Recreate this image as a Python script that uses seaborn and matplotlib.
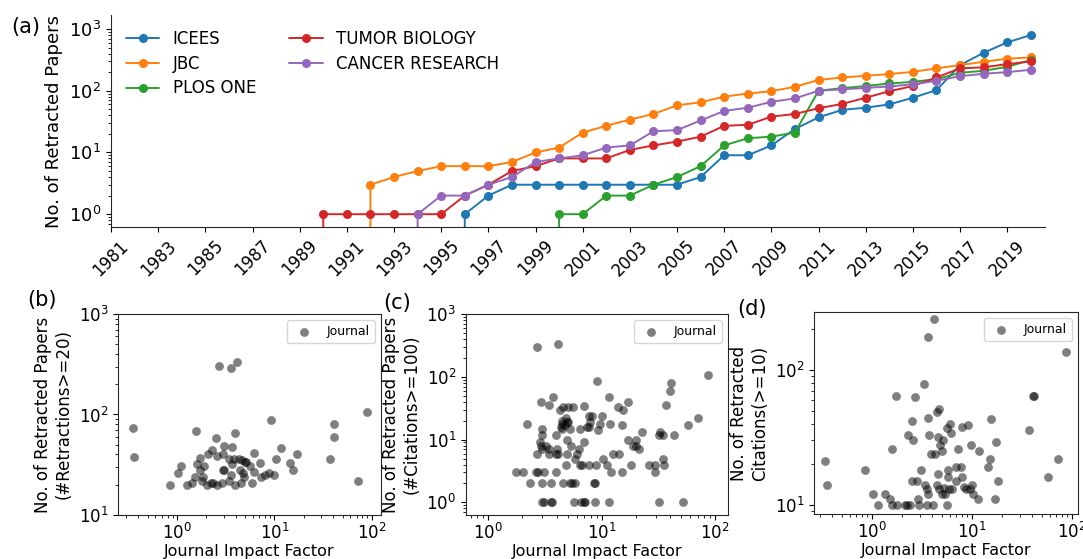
import pandas as pd
import matplotlib
matplotlib.use("Agg")
import matplotlib.pyplot as plt
import seaborn as sns

# (a) retracted papers per year, each list starts at the last year with zero
journals = ["ICEES", "JBC", "PLOS ONE", "TUMOR BIOLOGY", "CANCER RESEARCH"]
icees_start = 1995
icees = [0, 1, 2, 3, 3, 3, 3, 3, 3, 3, 3, 4, 9, 9, 13, 24, 37, 49, 53, 60,
         77, 102, 260, 411, 607, 796]
jbc_start = 1991
jbc = [0, 3, 4, 5, 6, 6, 6, 7, 10, 12, 21, 27, 34, 42, 58, 65, 80, 90, 98,
       116, 149, 164, 174, 186, 202, 230, 260, 294, 329, 347]
plos_start = 1999
plos = [0, 1, 1, 2, 2, 3, 4, 6, 13, 17, 18, 21, 100, 110, 119, 131, 139, 154,
        195, 210, 244, 313]
tumor_start = 1989
tumor = [0, 1, 1, 1, 1, 1, 1, 2, 3, 5, 6, 8, 8, 8, 11, 13, 15, 18, 27, 28,
         38, 42, 52, 61, 77, 98, 119, 164, 230, 239, 270, 298]
cancer_start = 1993
cancer = [0, 1, 2, 2, 3, 4, 7, 8, 9, 12, 13, 22, 23, 33, 47, 53, 66, 75, 100,
          105, 111, 117, 127, 145, 172, 188, 200, 218]
year_ticks = list(range(1981, 2020, 2))

# (b) journals with >= 20 retractions
b_if = [0.35, 0.36, 2.72, 3.6, 4.17, 9.2, 1.57, 3.94, 2.54, 3.05, 3.68, 2.29,
        2.1, 2.94, 1.72, 3.43, 3.85, 4.68, 5.06, 6.14, 7.16, 11.7, 10.4, 17.1,
        14.4, 15.6, 37.4, 41, 40.4, 71.6, 90, 1.09, 1.02, 0.85, 1.28, 1.43,
        1.54, 1.62, 1.83, 1.8, 1.89, 1.71, 2.04, 2.24, 2.32, 2.57, 2.87, 2.94,
        3.0, 3.43, 3.6, 3.91, 3.7, 4.43, 4.5, 4.78, 4.86, 5.0, 5.55, 5.9, 6.14,
        7.3, 8.05, 8.7, 9.9, 2.6, 4.3]
b_n = [74, 38, 305, 287, 333, 88, 68, 66, 58, 49, 48, 44, 40, 40, 37, 36, 36,
       35, 34, 41, 33, 46, 36, 40, 33, 28, 36, 81, 60, 22, 105, 31, 26, 20, 20,
       21, 24, 32, 24, 22, 31, 28, 20, 21, 21, 20, 21, 28, 28, 22, 25, 20, 32,
       28, 21, 26, 24, 34, 31, 21, 27, 24, 25, 26, 25, 39, 36]

# (c) journals, retracted papers with >= 100 citations
c_if = [3.0, 3.11, 3.55, 3.63, 5.67, 6.57, 6.93, 7.1, 8.75, 11.7, 32.2, 52,
        2.33, 2.95, 3.6, 4.58, 5.23, 5.5, 5.86, 8.47, 8.75,
        1.76, 2.02, 2.63, 2.72, 3.07, 3.98, 12.1, 15.1, 29.7,
        4.8, 6.48, 6.7, 7.66, 8.93, 11.1, 18, 26.3, 29.7, 35.5,
        5.86, 10.2, 34.8,
        2.69, 3.44, 3.93, 4.1, 4.96, 6.06, 12.5, 14.3,
        3.0, 3.44, 4.0, 6.3, 21.5,
        2.9, 3.2, 5.4, 18.8, 20,
        2.87, 6.93,
        4.9, 17, 19.9,
        2.97, 3.93, 31.7, 34.8, 43,
        32.5, 22.7, 9.35,
        2.95, 4.48, 6.4,
        7.4, 7.66, 15.1, 58,
        2.17, 4.48, 9.66, 11.8,
        4.9, 7.9, 70,
        7.8, 10, 8.2,
        4.5, 4.8, 4.7, 4.4, 5.0, 5.3,
        4.28, 15.4,
        4.6, 5.0, 13.8, 5.6, 7.0,
        36.7, 3.44, 2.9, 17, 3.7, 11.7,
        39.7, 40.8, 9.0, 87, 2.69, 4.14]
c_n = [1, 1, 1, 1, 1, 1, 1, 1, 1, 1, 1, 1,
       2, 2, 2, 2, 2, 2, 2, 2, 2,
       3, 3, 3, 3, 3, 3, 3, 3, 3,
       4, 4, 4, 4, 4, 4, 4, 4, 4, 4,
       5, 5, 5,
       6, 6, 6, 6, 6, 6, 6, 6,
       7, 7, 7, 7, 7,
       8, 8, 8, 8, 8,
       9, 9,
       10, 10, 10,
       12, 12, 12, 12, 12,
       13, 13, 14,
       15, 15, 15,
       16, 16, 17, 17,
       18, 18, 18, 18,
       19, 19, 22,
       24, 24, 24,
       20, 22, 17, 16, 19, 15,
       30, 30,
       33, 33, 33, 33, 34,
       36, 36, 40, 40, 47, 47,
       59, 80, 86, 106, 300, 327]

# (d) journals, retracted citations >= 10
d_if = [0.34, 0.357, 0.85, 1.02, 1.16, 1.35, 1.51, 1.6, 1.76, 1.6, 1.72, 2.14,
        2.22, 2.4, 2.27, 2.59, 2.53, 2.53, 2.71, 2.9, 2.95, 3.09, 2.8, 3.34,
        3.38, 3.52, 3.52, 3.66, 3.6, 4.17, 3.66, 3.71, 4.1, 3.89, 4.26, 4.43,
        4.7, 4.6, 4.78, 4.97, 5.1, 4.55, 4.5, 4.7, 5.0, 5.2, 5.37, 5.58, 5.7,
        5.58, 6.03, 6.17, 5.7, 5.93, 6.26, 7.0, 7.7, 7.2, 7.0, 7.9, 8.3, 7.95,
        9.2, 8.7, 9.78, 9.9, 9.5, 10.3, 11.6, 11.8, 15.5, 15.2, 14.4, 17.2,
        17.1, 18.3, 37.5, 41, 41.5, 58, 72, 87]
d_n = [21, 14, 18, 12, 10, 12, 11, 10, 10, 26, 64, 10,
       10, 10, 33, 30, 42, 15, 63, 11, 10, 18, 15, 79,
       14, 13, 10, 12, 175, 237, 44, 33, 10, 24, 24, 49,
       51, 32, 28, 25, 30, 17, 14, 13, 12, 13.4, 12, 10, 18,
       37, 40, 34, 16, 13, 13, 19, 19, 26, 15, 16, 13.5, 38,
       39, 13, 28, 14, 13, 12, 11, 25, 43, 22, 19, 29,
       11, 15, 36, 64, 64, 16, 22, 135]

sns.set_style("ticks")
plt.rcParams["font.family"] = ["DejaVu Sans"]
plt.rcParams["text.color"] = "black"
plt.rcParams["axes.labelcolor"] = "black"
plt.rcParams["xtick.color"] = "black"
plt.rcParams["ytick.color"] = "black"

fig = plt.figure(figsize=(10.83, 5.59), dpi=100)

# (a) time series
starts = [icees_start, jbc_start, plos_start, tumor_start, cancer_start]
series = [icees, jbc, plos, tumor, cancer]
rows = []
for name, start, vals in zip(journals, starts, series):
    for i, v in enumerate(vals):
        rows.append((name, start + i, v))
df = pd.DataFrame(rows, columns=["journal", "year", "count"])

ax = fig.add_axes([0.1025, 0.5939, 0.8624, 0.3792])
sns.lineplot(data=df, x="year", y="count", hue="journal", hue_order=journals,
             palette="tab10", marker="o", markersize=6.5, markeredgewidth=0,
             linewidth=1.4, ax=ax)
ax.set_yscale("log")
ax.set_xlim(1981, 2020.6)
ax.set_ylim(0.62, 1680)
ax.set_xticks(year_ticks)
ax.set_xticklabels([str(y) for y in year_ticks], rotation=45, fontsize=12)
ax.tick_params(axis="y", labelsize=13)
ax.set_xlabel("")
ax.set_ylabel("No. of Retracted Papers", fontsize=13)
sns.despine(ax=ax)
sns.move_legend(ax, "upper left", ncol=2, frameon=False, title=None,
                fontsize=12, labelspacing=0.4)

# (b)-(d) scatter panels
panels = [
    ([0.1090, 0.0787, 0.2428, 0.3596], b_if, b_n,
     "No. of Retracted Papers\n(#Retractions>=20)", (0.248, 124), (10, 1000)),
    ([0.4303, 0.0787, 0.2419, 0.3596], c_if, c_n,
     "No. of Retracted Papers\n(#Citations>=100)", (0.635, 130), (0.63, 1000)),
    ([0.7516, 0.0805, 0.2438, 0.3614], d_if, d_n,
     "No. of Retracted\nCitations(>=10)", (0.263, 115), (8.55, 269)),
]
for rect, xs, ys, ylab, xlim, ylim in panels:
    sax = fig.add_axes(rect)
    sns.scatterplot(x=xs, y=ys, color="k", alpha=0.5, s=40, linewidth=0,
                    label="Journal", ax=sax)
    sax.set_xscale("log")
    sax.set_yscale("log")
    sax.set_xlim(*xlim)
    sax.set_ylim(*ylim)
    sax.tick_params(labelsize=12)
    sax.tick_params(axis="x", pad=2)
    sax.set_xlabel("Journal Impact Factor", fontsize=11.5, labelpad=1)
    sax.set_ylabel(ylab, fontsize=12)
    sax.legend(loc="upper right", fontsize=9)

fig.text(0.024, 0.951, "(a)", fontsize=15, ha="center", va="center")
fig.text(0.039, 0.463, "(b)", fontsize=15, ha="center", va="center")
fig.text(0.367, 0.458, "(c)", fontsize=15, ha="center", va="center")
fig.text(0.694, 0.447, "(d)", fontsize=15, ha="center", va="center")

fig.savefig("out.png", dpi=100)
